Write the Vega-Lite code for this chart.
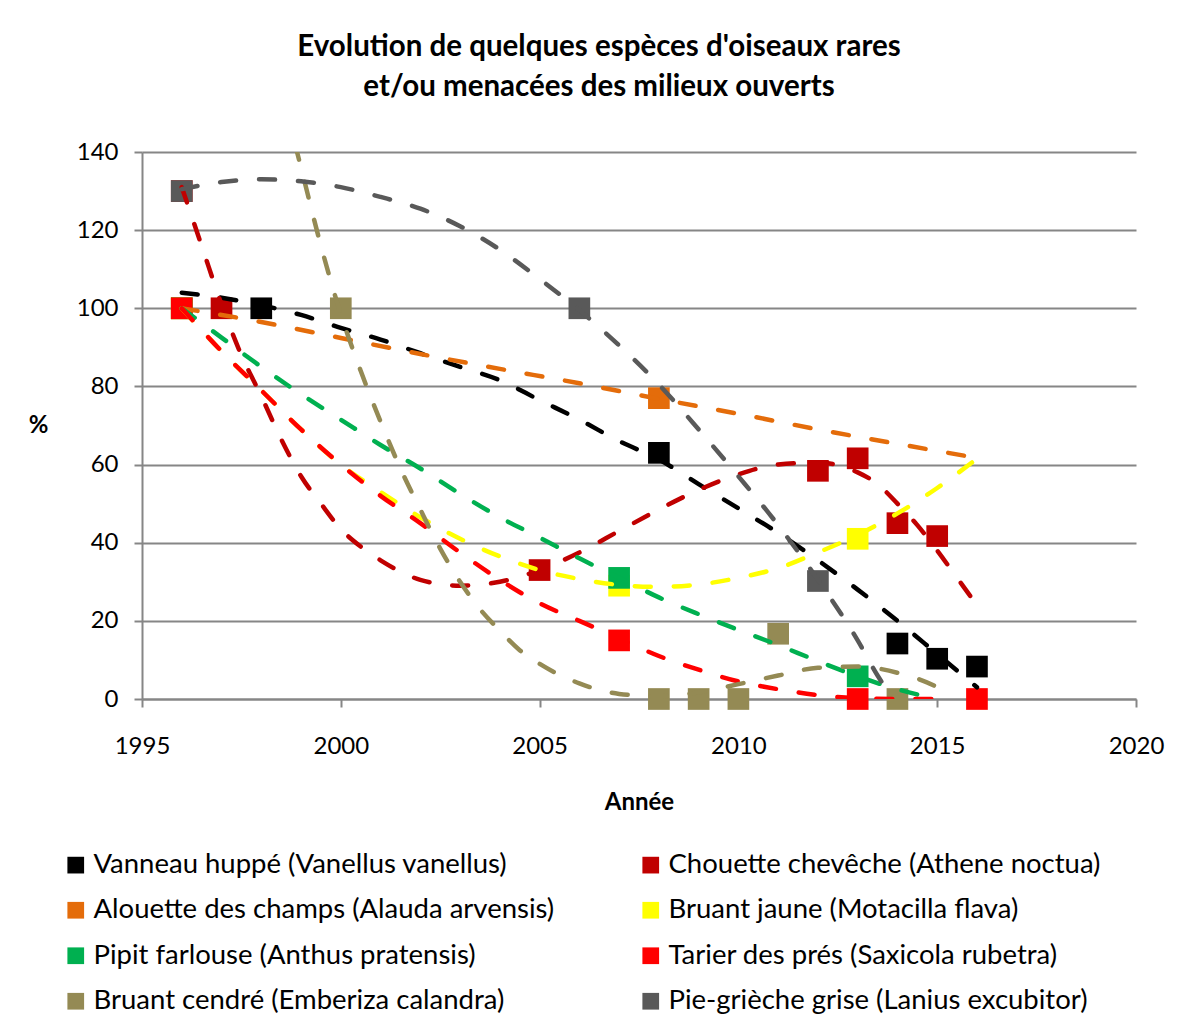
{
  "$schema": "https://vega.github.io/schema/vega-lite/v6.json",
  "width": 994,
  "height": 547,
  "autosize": {"type": "none"},
  "padding": {"left": 142, "top": 152, "right": 59, "bottom": 336},
  "background": "white",
  "config": {
    "view": {"stroke": null},
    "font": "Lato"
  },
  "title": {
    "text": ["Evolution de quelques espèces d'oiseaux rares", "et/ou menacées des milieux ouverts"],
    "font": "Lato",
    "fontSize": 29.5,
    "fontWeight": "bold",
    "color": "black",
    "anchor": "middle",
    "dx": -40,
    "offset": 38,
    "lineHeight": 40
  },
  "datasets": {
    "points": [
      {"espece": "Vanneau huppé (Vanellus vanellus)", "annee": 1998, "valeur": 100},
      {"espece": "Vanneau huppé (Vanellus vanellus)", "annee": 2008, "valeur": 63},
      {"espece": "Vanneau huppé (Vanellus vanellus)", "annee": 2014, "valeur": 14.2},
      {"espece": "Vanneau huppé (Vanellus vanellus)", "annee": 2015, "valeur": 10.3},
      {"espece": "Vanneau huppé (Vanellus vanellus)", "annee": 2016, "valeur": 8.3},
      {"espece": "Chouette chevêche (Athene noctua)", "annee": 1996, "valeur": 130},
      {"espece": "Chouette chevêche (Athene noctua)", "annee": 1997, "valeur": 100},
      {"espece": "Chouette chevêche (Athene noctua)", "annee": 2005, "valeur": 33},
      {"espece": "Chouette chevêche (Athene noctua)", "annee": 2012, "valeur": 58.4},
      {"espece": "Chouette chevêche (Athene noctua)", "annee": 2013, "valeur": 61.6},
      {"espece": "Chouette chevêche (Athene noctua)", "annee": 2014, "valeur": 45},
      {"espece": "Chouette chevêche (Athene noctua)", "annee": 2015, "valeur": 41.7},
      {"espece": "Alouette des champs (Alauda arvensis)", "annee": 1996, "valeur": 100},
      {"espece": "Alouette des champs (Alauda arvensis)", "annee": 2008, "valeur": 77},
      {"espece": "Bruant jaune (Motacilla flava)", "annee": 1996, "valeur": 100},
      {"espece": "Bruant jaune (Motacilla flava)", "annee": 2007, "valeur": 29},
      {"espece": "Bruant jaune (Motacilla flava)", "annee": 2013, "valeur": 41},
      {"espece": "Pipit farlouse (Anthus pratensis)", "annee": 1996, "valeur": 100},
      {"espece": "Pipit farlouse (Anthus pratensis)", "annee": 2007, "valeur": 31},
      {"espece": "Pipit farlouse (Anthus pratensis)", "annee": 2013, "valeur": 5.8},
      {"espece": "Tarier des prés (Saxicola rubetra)", "annee": 1996, "valeur": 100},
      {"espece": "Tarier des prés (Saxicola rubetra)", "annee": 2007, "valeur": 15},
      {"espece": "Tarier des prés (Saxicola rubetra)", "annee": 2013, "valeur": 0},
      {"espece": "Tarier des prés (Saxicola rubetra)", "annee": 2016, "valeur": 0},
      {"espece": "Bruant cendré (Emberiza calandra)", "annee": 2000, "valeur": 100},
      {"espece": "Bruant cendré (Emberiza calandra)", "annee": 2008, "valeur": 0},
      {"espece": "Bruant cendré (Emberiza calandra)", "annee": 2009, "valeur": 0},
      {"espece": "Bruant cendré (Emberiza calandra)", "annee": 2010, "valeur": 0},
      {"espece": "Bruant cendré (Emberiza calandra)", "annee": 2011, "valeur": 16.7},
      {"espece": "Bruant cendré (Emberiza calandra)", "annee": 2014, "valeur": 0},
      {"espece": "Pie-grièche grise (Lanius excubitor)", "annee": 1996, "valeur": 130},
      {"espece": "Pie-grièche grise (Lanius excubitor)", "annee": 2006, "valeur": 100},
      {"espece": "Pie-grièche grise (Lanius excubitor)", "annee": 2012, "valeur": 30.2}
    ],
    "tendances": [
      {"espece": "Vanneau huppé (Vanellus vanellus)", "annee": 1996, "valeur": 104},
      {"espece": "Vanneau huppé (Vanellus vanellus)", "annee": 1997, "valeur": 102.7},
      {"espece": "Vanneau huppé (Vanellus vanellus)", "annee": 1998, "valeur": 100.8},
      {"espece": "Vanneau huppé (Vanellus vanellus)", "annee": 1999, "valeur": 98.3},
      {"espece": "Vanneau huppé (Vanellus vanellus)", "annee": 2000, "valeur": 95},
      {"espece": "Vanneau huppé (Vanellus vanellus)", "annee": 2001, "valeur": 92},
      {"espece": "Vanneau huppé (Vanellus vanellus)", "annee": 2002, "valeur": 88.5},
      {"espece": "Vanneau huppé (Vanellus vanellus)", "annee": 2003, "valeur": 85},
      {"espece": "Vanneau huppé (Vanellus vanellus)", "annee": 2004, "valeur": 81.6},
      {"espece": "Vanneau huppé (Vanellus vanellus)", "annee": 2005, "valeur": 76.5},
      {"espece": "Vanneau huppé (Vanellus vanellus)", "annee": 2006, "valeur": 71.5},
      {"espece": "Vanneau huppé (Vanellus vanellus)", "annee": 2007, "valeur": 66},
      {"espece": "Vanneau huppé (Vanellus vanellus)", "annee": 2008, "valeur": 61.3},
      {"espece": "Vanneau huppé (Vanellus vanellus)", "annee": 2009, "valeur": 55},
      {"espece": "Vanneau huppé (Vanellus vanellus)", "annee": 2010, "valeur": 48.8},
      {"espece": "Vanneau huppé (Vanellus vanellus)", "annee": 2011, "valeur": 42.5},
      {"espece": "Vanneau huppé (Vanellus vanellus)", "annee": 2012, "valeur": 35.5},
      {"espece": "Vanneau huppé (Vanellus vanellus)", "annee": 2013, "valeur": 28},
      {"espece": "Vanneau huppé (Vanellus vanellus)", "annee": 2014, "valeur": 20},
      {"espece": "Vanneau huppé (Vanellus vanellus)", "annee": 2015, "valeur": 11.5},
      {"espece": "Vanneau huppé (Vanellus vanellus)", "annee": 2016, "valeur": 3},
      {"espece": "Chouette chevêche (Athene noctua)", "annee": 1996, "valeur": 131},
      {"espece": "Chouette chevêche (Athene noctua)", "annee": 1996.5, "valeur": 116},
      {"espece": "Chouette chevêche (Athene noctua)", "annee": 1997, "valeur": 101},
      {"espece": "Chouette chevêche (Athene noctua)", "annee": 1997.5, "valeur": 88},
      {"espece": "Chouette chevêche (Athene noctua)", "annee": 1998, "valeur": 77.5},
      {"espece": "Chouette chevêche (Athene noctua)", "annee": 1998.5, "valeur": 66.5},
      {"espece": "Chouette chevêche (Athene noctua)", "annee": 1999, "valeur": 57},
      {"espece": "Chouette chevêche (Athene noctua)", "annee": 1999.5, "valeur": 50},
      {"espece": "Chouette chevêche (Athene noctua)", "annee": 2000, "valeur": 43.5},
      {"espece": "Chouette chevêche (Athene noctua)", "annee": 2000.5, "valeur": 39},
      {"espece": "Chouette chevêche (Athene noctua)", "annee": 2001, "valeur": 35.5},
      {"espece": "Chouette chevêche (Athene noctua)", "annee": 2002, "valeur": 30.5},
      {"espece": "Chouette chevêche (Athene noctua)", "annee": 2003, "valeur": 29},
      {"espece": "Chouette chevêche (Athene noctua)", "annee": 2004, "valeur": 30},
      {"espece": "Chouette chevêche (Athene noctua)", "annee": 2005, "valeur": 33},
      {"espece": "Chouette chevêche (Athene noctua)", "annee": 2006, "valeur": 37.5},
      {"espece": "Chouette chevêche (Athene noctua)", "annee": 2007, "valeur": 43},
      {"espece": "Chouette chevêche (Athene noctua)", "annee": 2008, "valeur": 48.5},
      {"espece": "Chouette chevêche (Athene noctua)", "annee": 2009, "valeur": 53.5},
      {"espece": "Chouette chevêche (Athene noctua)", "annee": 2010, "valeur": 57.5},
      {"espece": "Chouette chevêche (Athene noctua)", "annee": 2011, "valeur": 60},
      {"espece": "Chouette chevêche (Athene noctua)", "annee": 2012, "valeur": 60.5},
      {"espece": "Chouette chevêche (Athene noctua)", "annee": 2013, "valeur": 58},
      {"espece": "Chouette chevêche (Athene noctua)", "annee": 2013.5, "valeur": 55},
      {"espece": "Chouette chevêche (Athene noctua)", "annee": 2014, "valeur": 50},
      {"espece": "Chouette chevêche (Athene noctua)", "annee": 2014.5, "valeur": 44.5},
      {"espece": "Chouette chevêche (Athene noctua)", "annee": 2015, "valeur": 38},
      {"espece": "Chouette chevêche (Athene noctua)", "annee": 2015.5, "valeur": 31},
      {"espece": "Chouette chevêche (Athene noctua)", "annee": 2016, "valeur": 24},
      {"espece": "Alouette des champs (Alauda arvensis)", "annee": 1996, "valeur": 100},
      {"espece": "Alouette des champs (Alauda arvensis)", "annee": 1998, "valeur": 96.5},
      {"espece": "Alouette des champs (Alauda arvensis)", "annee": 2000, "valeur": 92.4},
      {"espece": "Alouette des champs (Alauda arvensis)", "annee": 2002, "valeur": 88.3},
      {"espece": "Alouette des champs (Alauda arvensis)", "annee": 2004, "valeur": 84.5},
      {"espece": "Alouette des champs (Alauda arvensis)", "annee": 2006, "valeur": 80.8},
      {"espece": "Alouette des champs (Alauda arvensis)", "annee": 2008, "valeur": 76.8},
      {"espece": "Alouette des champs (Alauda arvensis)", "annee": 2010, "valeur": 73},
      {"espece": "Alouette des champs (Alauda arvensis)", "annee": 2012, "valeur": 69},
      {"espece": "Alouette des champs (Alauda arvensis)", "annee": 2014, "valeur": 65.3},
      {"espece": "Alouette des champs (Alauda arvensis)", "annee": 2016, "valeur": 61.7},
      {"espece": "Bruant jaune (Motacilla flava)", "annee": 1996, "valeur": 100},
      {"espece": "Bruant jaune (Motacilla flava)", "annee": 1997, "valeur": 89},
      {"espece": "Bruant jaune (Motacilla flava)", "annee": 1998, "valeur": 79},
      {"espece": "Bruant jaune (Motacilla flava)", "annee": 1999, "valeur": 69},
      {"espece": "Bruant jaune (Motacilla flava)", "annee": 2000, "valeur": 60},
      {"espece": "Bruant jaune (Motacilla flava)", "annee": 2001, "valeur": 53},
      {"espece": "Bruant jaune (Motacilla flava)", "annee": 2002, "valeur": 46.5},
      {"espece": "Bruant jaune (Motacilla flava)", "annee": 2003, "valeur": 41},
      {"espece": "Bruant jaune (Motacilla flava)", "annee": 2004, "valeur": 36.5},
      {"espece": "Bruant jaune (Motacilla flava)", "annee": 2005, "valeur": 33},
      {"espece": "Bruant jaune (Motacilla flava)", "annee": 2006, "valeur": 30.7},
      {"espece": "Bruant jaune (Motacilla flava)", "annee": 2007, "valeur": 29.2},
      {"espece": "Bruant jaune (Motacilla flava)", "annee": 2008, "valeur": 28.7},
      {"espece": "Bruant jaune (Motacilla flava)", "annee": 2009, "valeur": 29.3},
      {"espece": "Bruant jaune (Motacilla flava)", "annee": 2010, "valeur": 31},
      {"espece": "Bruant jaune (Motacilla flava)", "annee": 2011, "valeur": 33.5},
      {"espece": "Bruant jaune (Motacilla flava)", "annee": 2012, "valeur": 37.5},
      {"espece": "Bruant jaune (Motacilla flava)", "annee": 2013, "valeur": 42},
      {"espece": "Bruant jaune (Motacilla flava)", "annee": 2014, "valeur": 47.5},
      {"espece": "Bruant jaune (Motacilla flava)", "annee": 2015, "valeur": 54},
      {"espece": "Bruant jaune (Motacilla flava)", "annee": 2016, "valeur": 61.5},
      {"espece": "Pipit farlouse (Anthus pratensis)", "annee": 1996, "valeur": 100},
      {"espece": "Pipit farlouse (Anthus pratensis)", "annee": 1997, "valeur": 92.5},
      {"espece": "Pipit farlouse (Anthus pratensis)", "annee": 1998, "valeur": 85},
      {"espece": "Pipit farlouse (Anthus pratensis)", "annee": 1999, "valeur": 78},
      {"espece": "Pipit farlouse (Anthus pratensis)", "annee": 2000, "valeur": 71.5},
      {"espece": "Pipit farlouse (Anthus pratensis)", "annee": 2001, "valeur": 65},
      {"espece": "Pipit farlouse (Anthus pratensis)", "annee": 2002, "valeur": 59},
      {"espece": "Pipit farlouse (Anthus pratensis)", "annee": 2003, "valeur": 52.5},
      {"espece": "Pipit farlouse (Anthus pratensis)", "annee": 2004, "valeur": 46.5},
      {"espece": "Pipit farlouse (Anthus pratensis)", "annee": 2005, "valeur": 41.3},
      {"espece": "Pipit farlouse (Anthus pratensis)", "annee": 2006, "valeur": 36},
      {"espece": "Pipit farlouse (Anthus pratensis)", "annee": 2007, "valeur": 31},
      {"espece": "Pipit farlouse (Anthus pratensis)", "annee": 2008, "valeur": 26},
      {"espece": "Pipit farlouse (Anthus pratensis)", "annee": 2009, "valeur": 21.7},
      {"espece": "Pipit farlouse (Anthus pratensis)", "annee": 2010, "valeur": 17.7},
      {"espece": "Pipit farlouse (Anthus pratensis)", "annee": 2011, "valeur": 13.8},
      {"espece": "Pipit farlouse (Anthus pratensis)", "annee": 2012, "valeur": 9.7},
      {"espece": "Pipit farlouse (Anthus pratensis)", "annee": 2013, "valeur": 5.8},
      {"espece": "Pipit farlouse (Anthus pratensis)", "annee": 2014, "valeur": 2.5},
      {"espece": "Pipit farlouse (Anthus pratensis)", "annee": 2015, "valeur": 0},
      {"espece": "Tarier des prés (Saxicola rubetra)", "annee": 1996, "valeur": 100},
      {"espece": "Tarier des prés (Saxicola rubetra)", "annee": 1997, "valeur": 89},
      {"espece": "Tarier des prés (Saxicola rubetra)", "annee": 1998, "valeur": 79},
      {"espece": "Tarier des prés (Saxicola rubetra)", "annee": 1999, "valeur": 69},
      {"espece": "Tarier des prés (Saxicola rubetra)", "annee": 2000, "valeur": 60},
      {"espece": "Tarier des prés (Saxicola rubetra)", "annee": 2001, "valeur": 52},
      {"espece": "Tarier des prés (Saxicola rubetra)", "annee": 2002, "valeur": 45},
      {"espece": "Tarier des prés (Saxicola rubetra)", "annee": 2003, "valeur": 37.5},
      {"espece": "Tarier des prés (Saxicola rubetra)", "annee": 2004, "valeur": 30.5},
      {"espece": "Tarier des prés (Saxicola rubetra)", "annee": 2005, "valeur": 24.5},
      {"espece": "Tarier des prés (Saxicola rubetra)", "annee": 2006, "valeur": 20},
      {"espece": "Tarier des prés (Saxicola rubetra)", "annee": 2007, "valeur": 15.5},
      {"espece": "Tarier des prés (Saxicola rubetra)", "annee": 2008, "valeur": 11},
      {"espece": "Tarier des prés (Saxicola rubetra)", "annee": 2009, "valeur": 7.5},
      {"espece": "Tarier des prés (Saxicola rubetra)", "annee": 2010, "valeur": 4.5},
      {"espece": "Tarier des prés (Saxicola rubetra)", "annee": 2011, "valeur": 2.5},
      {"espece": "Tarier des prés (Saxicola rubetra)", "annee": 2012, "valeur": 1},
      {"espece": "Tarier des prés (Saxicola rubetra)", "annee": 2013, "valeur": 0.2},
      {"espece": "Tarier des prés (Saxicola rubetra)", "annee": 2014, "valeur": 0},
      {"espece": "Tarier des prés (Saxicola rubetra)", "annee": 2015, "valeur": 0},
      {"espece": "Bruant cendré (Emberiza calandra)", "annee": 1998.85, "valeur": 142},
      {"espece": "Bruant cendré (Emberiza calandra)", "annee": 1999, "valeur": 136},
      {"espece": "Bruant cendré (Emberiza calandra)", "annee": 1999.5, "valeur": 116},
      {"espece": "Bruant cendré (Emberiza calandra)", "annee": 2000, "valeur": 98.5},
      {"espece": "Bruant cendré (Emberiza calandra)", "annee": 2000.5, "valeur": 84},
      {"espece": "Bruant cendré (Emberiza calandra)", "annee": 2001, "valeur": 71},
      {"espece": "Bruant cendré (Emberiza calandra)", "annee": 2001.5, "valeur": 59},
      {"espece": "Bruant cendré (Emberiza calandra)", "annee": 2002, "valeur": 48.5},
      {"espece": "Bruant cendré (Emberiza calandra)", "annee": 2002.5, "valeur": 38.5},
      {"espece": "Bruant cendré (Emberiza calandra)", "annee": 2003, "valeur": 30},
      {"espece": "Bruant cendré (Emberiza calandra)", "annee": 2003.5, "valeur": 23},
      {"espece": "Bruant cendré (Emberiza calandra)", "annee": 2004, "valeur": 17.5},
      {"espece": "Bruant cendré (Emberiza calandra)", "annee": 2004.5, "valeur": 12.5},
      {"espece": "Bruant cendré (Emberiza calandra)", "annee": 2005, "valeur": 9},
      {"espece": "Bruant cendré (Emberiza calandra)", "annee": 2006, "valeur": 4},
      {"espece": "Bruant cendré (Emberiza calandra)", "annee": 2007, "valeur": 1.3},
      {"espece": "Bruant cendré (Emberiza calandra)", "annee": 2008, "valeur": 0.7},
      {"espece": "Bruant cendré (Emberiza calandra)", "annee": 2009, "valeur": 1.7},
      {"espece": "Bruant cendré (Emberiza calandra)", "annee": 2010, "valeur": 3.8},
      {"espece": "Bruant cendré (Emberiza calandra)", "annee": 2011, "valeur": 6},
      {"espece": "Bruant cendré (Emberiza calandra)", "annee": 2012, "valeur": 8},
      {"espece": "Bruant cendré (Emberiza calandra)", "annee": 2013, "valeur": 8.3},
      {"espece": "Bruant cendré (Emberiza calandra)", "annee": 2014, "valeur": 6.7},
      {"espece": "Bruant cendré (Emberiza calandra)", "annee": 2015, "valeur": 3},
      {"espece": "Bruant cendré (Emberiza calandra)", "annee": 2015.4, "valeur": 0.5},
      {"espece": "Pie-grièche grise (Lanius excubitor)", "annee": 1996, "valeur": 130.5},
      {"espece": "Pie-grièche grise (Lanius excubitor)", "annee": 1997, "valeur": 132.3},
      {"espece": "Pie-grièche grise (Lanius excubitor)", "annee": 1998, "valeur": 133},
      {"espece": "Pie-grièche grise (Lanius excubitor)", "annee": 1999, "valeur": 132.5},
      {"espece": "Pie-grièche grise (Lanius excubitor)", "annee": 2000, "valeur": 131},
      {"espece": "Pie-grièche grise (Lanius excubitor)", "annee": 2001, "valeur": 128.5},
      {"espece": "Pie-grièche grise (Lanius excubitor)", "annee": 2002, "valeur": 125.5},
      {"espece": "Pie-grièche grise (Lanius excubitor)", "annee": 2003, "valeur": 121},
      {"espece": "Pie-grièche grise (Lanius excubitor)", "annee": 2004, "valeur": 115},
      {"espece": "Pie-grièche grise (Lanius excubitor)", "annee": 2005, "valeur": 107.5},
      {"espece": "Pie-grièche grise (Lanius excubitor)", "annee": 2006, "valeur": 99.5},
      {"espece": "Pie-grièche grise (Lanius excubitor)", "annee": 2007, "valeur": 90.5},
      {"espece": "Pie-grièche grise (Lanius excubitor)", "annee": 2008, "valeur": 80.5},
      {"espece": "Pie-grièche grise (Lanius excubitor)", "annee": 2009, "valeur": 69},
      {"espece": "Pie-grièche grise (Lanius excubitor)", "annee": 2010, "valeur": 57},
      {"espece": "Pie-grièche grise (Lanius excubitor)", "annee": 2011, "valeur": 44.5},
      {"espece": "Pie-grièche grise (Lanius excubitor)", "annee": 2012, "valeur": 30.5},
      {"espece": "Pie-grièche grise (Lanius excubitor)", "annee": 2013, "valeur": 15},
      {"espece": "Pie-grièche grise (Lanius excubitor)", "annee": 2013.5, "valeur": 6},
      {"espece": "Pie-grièche grise (Lanius excubitor)", "annee": 2013.9, "valeur": 0}
    ]
  },
  "encoding": {
    "x": {
      "field": "annee",
      "type": "quantitative",
      "scale": {"domain": [1995, 2020], "nice": false, "zero": false},
      "axis": {
        "values": [1995, 2000, 2005, 2010, 2015, 2020],
        "format": "d",
        "grid": false,
        "labelFlush": false,
        "labelOverlap": false,
        "domainColor": "#868686",
        "domainWidth": 2,
        "tickColor": "#868686",
        "tickWidth": 2,
        "tickSize": 8,
        "labelFont": "Lato",
        "labelFontSize": 24,
        "labelColor": "black",
        "labelPadding": 27,
        "title": "Année",
        "titleFont": "Lato",
        "titleFontSize": 24,
        "titleFontWeight": "bold",
        "titleColor": "black",
        "titlePadding": 32
      }
    },
    "y": {
      "field": "valeur",
      "type": "quantitative",
      "scale": {"domain": [0, 140], "nice": false},
      "axis": {
        "values": [0, 20, 40, 60, 80, 100, 120, 140],
        "grid": true,
        "gridColor": "#868686",
        "gridWidth": 2,
        "domainColor": "#868686",
        "domainWidth": 2,
        "tickColor": "#868686",
        "tickWidth": 2,
        "tickSize": 8,
        "labelFont": "Lato",
        "labelFontSize": 24,
        "labelColor": "black",
        "labelPadding": 16,
        "title": "%",
        "titleFont": "Lato",
        "titleFontSize": 24,
        "titleFontWeight": "bold",
        "titleColor": "black",
        "titleAngle": 0,
        "titleAlign": "center",
        "titleBaseline": "middle",
        "titleX": -104,
        "titleY": 273
      }
    },
    "color": {
      "field": "espece",
      "type": "nominal",
      "scale": {
        "domain": [
          "Vanneau huppé (Vanellus vanellus)",
          "Alouette des champs (Alauda arvensis)",
          "Pipit farlouse (Anthus pratensis)",
          "Bruant cendré (Emberiza calandra)",
          "Chouette chevêche (Athene noctua)",
          "Bruant jaune (Motacilla flava)",
          "Tarier des prés (Saxicola rubetra)",
          "Pie-grièche grise (Lanius excubitor)"
        ],
        "range": ["#000000", "#E46C0A", "#00B050", "#948A54", "#C00000", "#FFFF00", "#FF0000", "#595959"]
      }
    }
  },
  "layer": [
    {
      "data": {"name": "points"},
      "mark": {"type": "square", "size": 470, "filled": true, "opacity": 1, "strokeWidth": 0},
      "encoding": {
        "color": {
          "field": "espece",
          "type": "nominal",
          "legend": {
            "orient": "none",
            "legendX": -80,
            "legendY": 699,
            "columns": 2,
            "title": null,
            "symbolType": "square",
            "symbolSize": 279,
            "symbolStrokeWidth": 0,
            "symbolOpacity": 1,
            "labelFont": "Lato",
            "labelFontSize": 27.5,
            "labelColor": "black",
            "labelOffset": 4,
            "labelLimit": 700,
            "rowPadding": 16.5,
            "columnPadding": 82
          }
        }
      }
    },
    {
      "data": {"name": "tendances"},
      "mark": {"type": "line", "clip": true, "strokeWidth": 4.5, "strokeDash": [16, 23], "strokeCap": "round", "interpolate": "monotone"},
      "encoding": {
        "color": {"field": "espece", "type": "nominal", "legend": null}
      }
    }
  ]
}
